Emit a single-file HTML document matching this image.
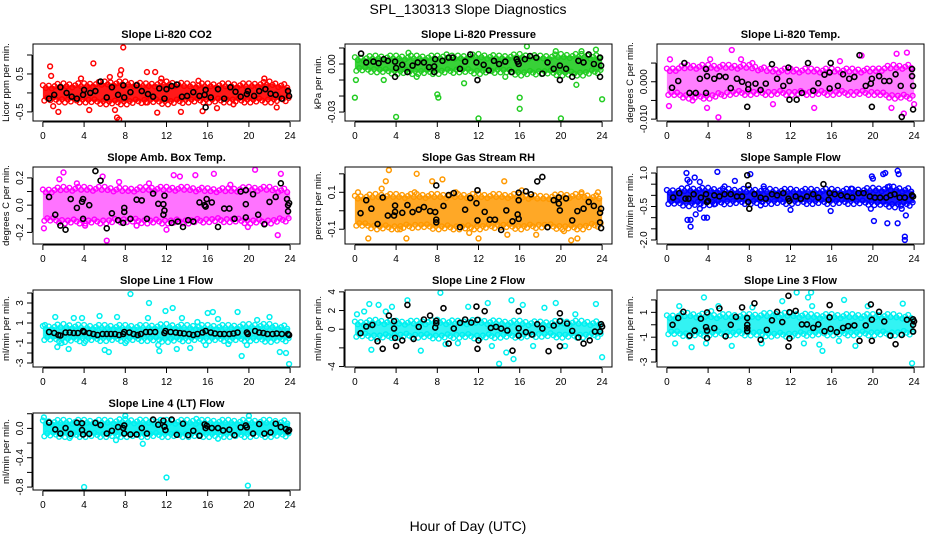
<!DOCTYPE html>
<html><head><meta charset="utf-8"><style>
html,body{margin:0;padding:0;background:#fff;}
svg{display:block;font-family:"Liberation Sans",sans-serif;}
</style></head><body>
<svg id="chart" width="936" height="540" viewBox="0 0 936 540">
<rect width="936" height="540" fill="#fff"/>
<text x="468" y="14" text-anchor="middle" font-size="14">SPL_130313  Slope Diagnostics</text>
<text x="468" y="531" text-anchor="middle" font-size="14">Hour of Day (UTC)</text>
</svg>
<script>
const xTicks = [0,4,8,12,16,20,24];
const bandHours = [0,2,4,6,8,10,12,14,16,18,20,22,24];
const panelTitles = ["Slope Li-820 CO2","Slope Li-820 Pressure","Slope Li-820 Temp.","Slope Amb. Box Temp.","Slope Gas Stream RH","Slope Sample Flow","Slope Line 1 Flow","Slope Line 2 Flow","Slope Line 3 Flow","Slope Line 4 (LT) Flow"];
const yLabels = ["Licor ppm per min.","kPa per min.","degrees C per min.","degrees C per min.","percent per min.","ml/min per min.","ml/min per min.","ml/min per min.","ml/min per min.","ml/min per min."];
const yDomains = [[-0.74,1.29],[-0.0356,0.0125],[-0.0105,0.0101],[-0.285,0.28],[-0.18,0.237],[-2.18,1.27],[-3.4,4.3],[-4.05,4.2],[-3.4,2.8],[-0.84,0.21]];
const yTicks = [[-0.5,0,0.5,1.0],[-0.03,-0.02,-0.01,0,0.01],[-0.01,-0.005,0,0.005],[-0.2,-0.1,0,0.1,0.2],[-0.1,0,0.1,0.2],[-2,-1.5,-1,-0.5,0,0.5,1],[-3,-2,-1,0,1,2,3,4],[-4,-2,0,2,4],[-3,-2,-1,0,1,2],[-0.8,-0.6,-0.4,-0.2,0,0.2]];
const yTickLabels = [["-0.5","","0.5",""],["-0.03","","","0.00",""],["-0.010","","0.000",""],["-0.2","","0.0","","0.2"],["-0.1","","0.1",""],["-2.0","","","-0.5","","","1.0"],["-3","","-1","","1","","3",""],["-4","","0","2","4"],["-3","","-1","","1",""],["-0.8","","-0.4","","0.0",""]];
const seriesColors = ["#ff0000","#22cc22","#ff00ff","#ff00ff","#ff9900","#0000ff","#00f0f0","#00f0f0","#00f0f0","#00f0f0"];
const bandLoArr = [
 [-0.15,-0.2,-0.2,-0.25,-0.25,-0.2,-0.25,-0.2,-0.2,-0.2,-0.2,-0.2,-0.15],
 [-0.003,-0.004,-0.005,-0.005,-0.005,-0.004,-0.005,-0.004,-0.006,-0.005,-0.006,-0.006,-0.004],
 [-0.003,-0.004,-0.004,-0.003,-0.003,-0.003,-0.003,-0.003,-0.003,-0.003,-0.003,-0.004,-0.004],
 [-0.1,-0.12,-0.12,-0.12,-0.11,-0.12,-0.12,-0.12,-0.11,-0.11,-0.12,-0.12,-0.1],
 [-0.07,-0.09,-0.09,-0.08,-0.09,-0.09,-0.09,-0.08,-0.09,-0.08,-0.09,-0.09,-0.07],
 [-0.3,-0.4,-0.35,-0.3,-0.3,-0.3,-0.3,-0.3,-0.3,-0.3,-0.35,-0.45,-0.35],
 [-0.5,-0.7,-0.6,-0.6,-0.6,-0.6,-0.7,-0.6,-0.6,-0.6,-0.6,-0.7,-0.6],
 [-0.6,-0.8,-0.7,-0.7,-0.8,-0.7,-0.8,-0.7,-0.7,-0.6,-0.7,-0.7,-0.6],
 [-0.6,-0.8,-0.7,-0.7,-0.7,-0.8,-0.8,-0.7,-0.7,-0.7,-0.7,-0.7,-0.6],
 [-0.08,-0.09,-0.09,-0.09,-0.09,-0.09,-0.09,-0.09,-0.09,-0.09,-0.09,-0.09,-0.08]];
const bandHiArr = [
 [0.15,0.2,0.2,0.25,0.25,0.2,0.25,0.2,0.2,0.2,0.2,0.25,0.15],
 [0.003,0.004,0.004,0.004,0.004,0.004,0.005,0.004,0.005,0.004,0.005,0.005,0.004],
 [0.003,0.004,0.004,0.004,0.004,0.003,0.003,0.003,0.003,0.003,0.003,0.004,0.004],
 [0.1,0.12,0.12,0.12,0.11,0.12,0.12,0.12,0.11,0.11,0.12,0.12,0.1],
 [0.07,0.08,0.08,0.08,0.08,0.08,0.08,0.08,0.08,0.07,0.08,0.08,0.07],
 [0.15,0.25,0.25,0.2,0.2,0.2,0.2,0.2,0.2,0.2,0.25,0.3,0.2],
 [0.5,0.7,0.6,0.6,0.6,0.6,0.7,0.6,0.6,0.6,0.7,0.7,0.5],
 [0.6,0.8,0.7,0.7,0.8,0.7,0.8,0.7,0.7,0.6,0.7,0.7,0.6],
 [0.6,0.8,0.7,0.7,0.7,0.8,0.8,0.7,0.7,0.7,0.7,0.7,0.6],
 [0.08,0.09,0.09,0.09,0.1,0.09,0.09,0.09,0.09,0.09,0.09,0.09,0.08]];
const bandOpacity = [0.9,0.9,0.5,0.55,0.85,0.9,0.85,0.8,0.8,0.9];

const p1Black=[[0.6,-0.15],[1.1,-0.05],[1.7,0.15],[2.3,0.0],[2.8,-0.1],[3.3,-0.15],[3.9,-0.05],[4.0,0.08],[4.6,0.0],[5.1,0.05],[5.6,0.3],[6.2,-0.12],[6.7,0.15],[7.3,-0.05],[7.8,0.2],[7.9,-0.12],[8.5,0.02],[9.1,0.2],[9.6,0.05],[10.2,-0.03],[10.7,-0.1],[11.3,0.12],[11.8,-0.15],[12.0,0.1],[12.5,0.18],[13.0,0.22],[13.5,-0.1],[14.0,-0.08],[14.6,0.02],[15.2,-0.08],[15.7,-0.05],[15.8,0.08],[15.8,-0.38],[16.3,-0.12],[17.0,0.1],[17.6,-0.15],[18.2,0.15],[18.7,0.03],[19.2,-0.1],[19.8,-0.03],[19.9,0.05],[20.5,-0.08],[21.0,0.05],[21.6,0.1],[22.1,-0.02],[22.6,-0.05],[23.2,-0.15],[23.8,0.05],[23.9,-0.08]];
const p1Out=[[0.7,0.7],[0.8,0.45],[1.0,-0.35],[1.5,-0.5],[3.7,0.38],[4.5,-0.45],[4.9,0.78],[6.5,0.42],[7.0,-0.45],[7.2,-0.65],[7.4,-0.7],[7.5,0.48],[7.6,0.6],[7.8,1.2],[10.1,0.55],[10.9,0.55],[11.1,-0.52],[11.5,0.38],[13.4,-0.5],[15.1,0.32],[15.5,-0.48],[16.9,-0.4],[18.5,-0.3],[21.5,0.38],[22.7,-0.38],[10.0,-0.25]];
const p2Black=[[0.6,0.0065],[1.1,0.001],[1.8,0.0015],[2.3,0.0005],[2.8,0.003],[3.2,0.002],[3.9,0.0015],[4.0,-0.0025],[3.9,-0.008],[4.6,-0.0005],[5.1,-0.005],[5.6,-0.001],[6.1,0.001],[6.7,0.001],[7.2,-0.002],[7.7,-0.0015],[7.8,0.003],[7.7,-0.005],[8.5,0.002],[9.1,0.004],[9.5,0.004],[10.2,-0.003],[10.7,0.0015],[11.2,0.006],[11.8,0.001],[11.9,-0.01],[12.5,-0.0005],[13.0,-0.004],[13.5,0.002],[14.0,0.0],[14.6,0.0015],[15.2,-0.005],[15.7,0.003],[15.8,0.0015],[15.9,0.0],[16.5,0.003],[17.0,0.005],[17.6,0.004],[18.2,-0.006],[18.7,0.001],[19.3,-0.003],[19.9,-0.001],[19.9,-0.01],[20.5,-0.003],[21.1,-0.008],[21.7,0.002],[22.2,0.001],[22.7,0.006],[23.2,0.0],[23.8,0.004],[23.9,-0.001],[23.8,-0.008]];
const p2Out=[[0.1,-0.01],[0.0,-0.021],[2.8,-0.01],[4.0,-0.033],[5.2,0.007],[8.0,-0.019],[8.1,-0.021],[8.9,0.006],[10.6,-0.012],[12.0,-0.034],[16.0,-0.021],[16.0,-0.028],[16.7,0.011],[19.5,0.008],[20.0,-0.034],[21.5,-0.013],[22.0,0.008],[23.4,0.009],[24.0,-0.022],[14.6,-0.008],[6.0,-0.008]];
const p3Black=[[0.5,-0.0016],[1.1,0.0002],[1.7,0.005],[2.2,-0.003],[2.8,-0.003],[3.2,0.0008],[3.8,0.0034],[3.9,0.0015],[3.8,-0.003],[4.6,0.0008],[5.1,0.0015],[5.7,0.0013],[6.2,-0.0017],[6.8,0.0008],[7.3,0],[7.9,-0.0007],[7.9,-0.002],[7.8,-0.0067],[8.6,-0.0005],[9.1,-0.0022],[9.6,-0.0005],[10.2,0.0047],[10.7,0.0008],[11.3,-0.0011],[11.8,0.0038],[11.9,0.0002],[11.9,-0.0048],[12.6,-0.0048],[13.1,-0.003],[13.7,0.005],[14.2,-0.0024],[14.7,-0.0004],[15.3,0.0019],[15.8,0.0025],[15.9,0.005],[15.8,-0.0018],[16.6,-0.0011],[17.1,0.002],[17.7,0.0008],[18.2,0.0013],[18.7,0.0071],[19.3,-0.0011],[19.8,-0.0005],[19.9,0.0008],[19.9,-0.0067],[20.6,0.0015],[21.1,0.0002],[21.6,0.0002],[22.2,0.002],[22.7,-0.0011],[22.8,-0.0094],[23.8,0.0034],[23.8,0.0015],[23.9,-0.0011],[23.9,-0.0074]];
const p3Out=[[0.2,-0.0065],[0.3,0.006],[2.5,-0.005],[5.0,-0.0095],[6.3,0.0085],[4.2,0.006],[7.2,0.006],[8.3,0.005],[14.3,-0.007],[16.8,0.0055],[18.9,0.007],[21.8,-0.007],[22.3,0.0075],[23.3,0.0078],[23.0,-0.0085],[24.0,-0.006],[10.3,-0.006],[3.9,-0.007]];
const p4Black=[[0.6,0.06],[1.2,-0.07],[1.7,-0.15],[2.2,-0.18],[2.7,0.045],[3.3,-0.02],[3.8,0.025],[3.9,0.045],[3.9,-0.1],[4.5,0],[5.1,0.25],[5.6,0.18],[6.2,-0.17],[6.7,-0.06],[7.3,-0.11],[7.8,-0.13],[7.9,-0.02],[7.9,-0.05],[8.5,-0.1],[9.1,0.04],[9.6,0.035],[10.1,-0.1],[10.7,0.085],[11.2,0.01],[11.7,0.007],[11.8,0.07],[11.8,-0.04],[11.7,-0.07],[12.5,-0.13],[13.1,-0.12],[13.6,-0.16],[14.1,-0.11],[14.6,-0.12],[15.2,0.02],[15.7,0],[15.8,-0.01],[15.9,0.045],[16.4,0.02],[17.0,-0.16],[17.6,-0.025],[18.1,-0.025],[18.6,-0.1],[19.2,0.1],[19.7,0.11],[19.7,0.007],[19.7,-0.09],[20.4,0.08],[20.9,-0.07],[21.5,-0.14],[22.0,0.024],[22.6,0.06],[23.1,0.16],[23.7,0.045],[23.8,0],[23.8,-0.045],[23.9,0.015]];
const p4Out=[[0.1,-0.17],[1.6,0.19],[2.0,0.24],[6.2,-0.26],[5.8,0.21],[12.7,0.22],[13.3,0.21],[14.8,0.22],[16.6,0.23],[20.6,0.26],[22.8,-0.22],[23.1,0.23],[12.0,-0.18],[19.9,-0.16],[9.1,-0.15],[3.3,0.16],[4.1,-0.15],[7.4,0.17],[10.3,0.16],[18.2,0.15]];
const p5Black=[[0.55,-0.013],[1.1,0.057],[1.6,0.011],[2.2,-0.072],[2.7,0.072],[3.2,-0.026],[3.8,-0.026],[3.9,0.028],[3.9,-0.006],[4.6,-0.011],[5.1,0.031],[5.6,-0.007],[6.2,0.006],[6.7,0.02],[7.3,-0.002],[7.8,-0.007],[7.9,-0.048],[7.9,-0.063],[7.9,0.137],[8.6,0.026],[9.1,0.085],[9.6,0.096],[10.2,-0.089],[10.7,0.006],[11.2,0.069],[11.8,0.041],[11.9,0.111],[11.9,-0.052],[12.6,-0.006],[13.1,-0.048],[13.6,-0.048],[14.2,-0.104],[14.7,0.002],[15.3,-0.057],[15.8,-0.02],[15.9,0.098],[15.9,0.057],[15.9,-0.044],[16.6,0.105],[17.1,0.089],[17.7,0.159],[18.2,0.183],[18.7,-0.089],[19.3,0.057],[19.8,0.072],[19.8,0.039],[19.9,0.002],[20.5,0.067],[21.1,-0.052],[21.6,-0.002],[22.2,0.011],[22.7,0.048],[23.2,0.026],[23.8,-0.011],[23.8,-0.063],[23.9,-0.094],[23.9,0.011]];
const p5Out=[[0.3,0.1],[1.3,-0.15],[2.6,0.12],[3.0,0.16],[3.3,0.22],[4.4,-0.1],[5.0,-0.15],[6.0,0.2],[7.5,0.16],[8.5,0.17],[11.1,-0.12],[12.0,-0.15],[14.5,0.16],[14.8,-0.13],[17.6,-0.13],[20.3,-0.11],[21.0,-0.16],[21.6,-0.15],[22.0,0.1],[23.6,0.1],[5.8,0.1],[9.8,0.1],[16.2,0.11]];
const p6Black=[[0.6,-0.1],[1.2,0.1],[1.8,-0.15],[2.1,-0.15],[2.6,0.05],[3.3,-0.1],[3.8,0.05],[3.9,-0.3],[4.0,-0.25],[4.6,0.0],[5.1,-0.05],[5.6,0.05],[6.2,0.05],[6.8,-0.05],[7.3,-0.05],[7.8,0.9],[7.9,0.45],[7.9,-0.3],[8.0,-0.6],[8.5,0.05],[9.1,-0.1],[9.6,-0.15],[10.2,0.05],[10.7,0.0],[11.3,0.1],[11.8,-0.15],[11.9,-0.25],[12.5,-0.05],[13.0,-0.15],[13.6,-0.05],[14.2,0.05],[14.7,-0.1],[15.2,0.5],[15.7,-0.2],[15.8,0.1],[16.3,0.05],[16.9,0.0],[17.5,-0.05],[18.0,-0.1],[18.6,0.1],[19.1,0.1],[19.7,-0.05],[20.2,-0.1],[20.7,-0.1],[21.3,-0.1],[21.7,0.0],[22.1,0.05],[22.6,-0.1],[23.1,-0.1],[23.8,0.0],[23.9,-0.05]];
const p6Out=[[1.9,1.0],[2.0,0.7],[2.2,0.6],[2.0,-1.1],[2.3,-1.1],[2.3,-1.4],[2.8,-0.85],[2.7,0.8],[3.2,0.6],[3.2,-0.6],[3.6,-1.0],[3.9,-1.0],[4.9,1.05],[4.6,-0.4],[5.6,0.4],[6.6,0.65],[8.1,0.95],[9.1,-0.45],[9.4,0.4],[12.0,-0.65],[15.9,-0.7],[17.9,0.3],[19.9,0.85],[20.0,0.75],[19.8,-0.6],[20.1,-1.15],[21.0,0.95],[21.2,1.0],[21.4,-1.25],[21.6,0.4],[22.4,1.1],[22.5,0.95],[22.4,-1.25],[22.8,-0.6],[23.1,-1.85],[23.1,-2.0],[23.2,-0.9],[23.5,-0.2]];
const p7Black=[[0.6,0.1],[1.1,0],[1.5,-0.2],[1.7,-0.25],[2.2,0.05],[2.6,0.05],[3.0,0.0],[3.4,0.0],[3.9,0.2],[4.0,0.1],[4.5,0.0],[4.9,-0.1],[5.3,-0.2],[5.8,-0.1],[6.2,-0.1],[6.6,-0.1],[7.0,-0.1],[7.4,-0.2],[7.8,-0.1],[7.9,0.1],[8.4,0.05],[8.8,-0.1],[9.2,-0.2],[9.5,-0.1],[10.0,0.1],[10.4,0.1],[10.9,0.1],[11.8,0.0],[11.9,0.2],[12.4,0.1],[12.9,0.05],[13.3,0.0],[13.7,-0.05],[14.2,-0.1],[14.6,-0.2],[15.0,-0.1],[15.5,0.05],[15.8,0.2],[16.3,0.05],[16.7,-0.05],[17.2,-0.1],[17.6,-0.1],[18.1,-0.1],[18.5,-0.05],[18.9,0.05],[19.8,0.05],[19.9,-0.1],[20.6,0.2],[21.0,0.05],[21.4,0.0],[21.8,-0.1],[22.3,-0.1],[22.7,-0.05],[23.2,-0.1],[23.8,-0.1],[23.9,-0.2]];
const p7Out=[[0.2,0.8],[1.2,1.6],[1.4,-1.4],[1.8,-1.0],[2.5,-1.6],[3.0,1.5],[3.8,1.5],[5.5,1.7],[6.0,-1.7],[6.4,-1.9],[7.2,1.6],[8.5,3.9],[10.3,3.0],[10.2,1.5],[11.2,-1.2],[11.3,-1.8],[11.9,2.2],[12.6,2.5],[13.0,-1.6],[13.5,1.5],[14.3,-1.5],[15.0,1.1],[15.8,-1.2],[16.0,2.0],[16.5,2.1],[17.0,1.4],[18.0,-1.1],[18.9,2.1],[19.3,-2.3],[19.8,-1.2],[22.0,1.6],[23.0,-1.9],[23.6,-2.0],[23.9,-3.1],[20.8,1.3],[8.0,-1.0],[4.0,-1.0]];
const p8Black=[[0.55,-0.43],[1.1,0.29],[1.7,0.46],[2.2,-1.29],[2.7,-2.1],[3.3,1.46],[3.8,0.86],[3.8,0.07],[3.9,-0.93],[4.0,-1.8],[4.6,-1.2],[5.1,2.6],[5.7,-1.04],[6.2,0.25],[6.7,1.04],[7.3,1.46],[7.9,0.9],[7.9,0.64],[7.8,0.18],[8.6,2.25],[9.1,-1.54],[9.6,0.07],[10.2,0.68],[10.7,1.04],[11.3,0.71],[11.8,2.43],[11.9,1.0],[12.0,-1.2],[11.9,-2.1],[12.6,1.93],[13.2,0.14],[13.7,0.25],[14.2,0.07],[14.8,-0.14],[15.3,-2.3],[15.9,1.93],[15.9,0.1],[15.9,-0.68],[16.6,-0.32],[17.2,-0.57],[17.7,0.54],[18.2,0.07],[18.8,-2.36],[19.3,0.39],[19.9,0.86],[19.9,1.7],[19.9,-1.82],[20.6,0.61],[21.1,-0.18],[21.7,-0.89],[22.2,-1.54],[22.8,-1.2],[23.3,-0.25],[23.8,-0.25],[23.9,0.54],[24.0,0.29]];
const p8Out=[[0.2,1.6],[0.9,1.9],[1.4,2.7],[1.6,-2.2],[2.3,2.6],[3.0,1.9],[3.6,2.4],[5.1,3.1],[6.4,-2.3],[8.3,3.9],[8.8,-1.6],[11.0,2.4],[12.9,2.8],[13.3,-1.8],[14.0,-3.7],[14.7,-2.5],[15.2,3.1],[15.4,-3.2],[16.3,2.6],[17.3,-1.8],[18.4,2.3],[19.5,2.8],[21.4,1.6],[23.4,2.7],[24.0,-3.0],[10.0,-1.5],[20.4,-1.8]];
const p9Black=[[0.55,0],[1.1,0.55],[1.6,1.04],[2.2,-0.88],[2.7,-0.47],[3.3,0.49],[3.8,-0.19],[3.9,-0.47],[3.9,-1.07],[3.9,0.99],[4.6,-0.27],[5.1,1.32],[5.7,-0.93],[6.2,0],[6.7,0.63],[7.3,1.4],[7.8,0.55],[7.8,0],[7.8,-0.27],[7.8,-0.52],[8.5,1.73],[9.1,-1.21],[9.7,-0.41],[10.2,0.36],[10.7,1.04],[11.2,0.22],[11.8,2.33],[11.9,1.01],[11.9,-1.1],[11.8,-1.75],[12.5,1.12],[13.1,0.03],[13.6,0.03],[14.2,-0.25],[14.7,0.03],[15.3,-0.52],[15.8,1.59],[15.8,0.6],[15.9,-0.33],[16.5,-0.6],[17.1,-0.25],[17.6,-0.11],[18.2,-0.05],[18.7,-1.29],[19.3,-0.05],[19.8,1.64],[19.9,0.41],[19.9,-1.29],[20.6,1.04],[21.1,0.27],[21.7,-0.88],[22.2,-1.56],[22.8,-0.82],[23.3,0.41],[23.9,0.44],[23.9,0],[23.9,-0.55],[24.0,0.27]];
const p9Out=[[1.2,1.5],[2.4,-1.8],[3.6,2.2],[4.3,1.1],[5.0,1.5],[8.3,1.4],[11.2,1.9],[12.6,2.6],[13.3,-1.5],[13.7,2.2],[14.0,2.6],[14.1,1.5],[14.8,-1.6],[15.1,-2.1],[16.7,-1.3],[17.2,2.0],[18.3,-1.7],[19.5,1.5],[22.9,1.7],[23.8,-3.1],[0.8,-1.5],[9.2,-1.5],[6.3,-1.7],[3.8,-1.5]];
const p10Black=[[0.6,0.08],[1.2,-0.014],[1.7,-0.07],[2.2,0.005],[2.7,-0.074],[3.3,0.078],[3.8,0.07],[3.8,-0.023],[3.9,-0.083],[4.5,-0.074],[5.1,0.074],[5.6,0.046],[6.2,-0.07],[6.7,-0.032],[7.3,0.018],[7.8,0.005],[7.9,0.041],[7.9,-0.07],[8.5,-0.083],[9.1,-0.083],[9.6,0.005],[10.1,-0.07],[10.7,0.12],[11.2,0.05],[11.7,0.106],[11.9,-0.023],[11.8,0.023],[12.5,0.12],[13.0,-0.087],[13.6,0.064],[14.1,-0.092],[14.6,-0.032],[15.2,-0.1],[15.7,0.055],[15.8,0.005],[15.9,0.037],[16.4,0.005],[17.0,0.005],[17.5,-0.028],[18.1,-0.018],[18.6,-0.092],[19.2,0.014],[19.7,0.041],[19.8,0.014],[20.4,-0.07],[21.0,0.06],[21.5,-0.07],[22.1,-0.055],[22.6,0.064],[23.1,0.018],[23.6,-0.01],[23.8,-0.041],[23.9,-0.023]];
const p10Out=[[0.1,0.15],[4.0,-0.8],[9.7,-0.21],[7.1,-0.16],[12.0,-0.67],[19.9,-0.78],[20.0,0.17],[14.9,0.13],[8.0,0.17],[2.6,-0.13],[17.0,-0.14]];

const blackSeries=[p1Black,p2Black,p3Black,p4Black,p5Black,p6Black,p7Black,p8Black,p9Black,p10Black];
const outlierSeries=[p1Out,p2Out,p3Out,p4Out,p5Out,p6Out,p7Out,p8Out,p9Out,p10Out];

const NS="http://www.w3.org/2000/svg";
const svg=document.getElementById('chart');
function mk(tag,attrs,parent){const e=document.createElementNS(NS,tag);for(const k in attrs)e.setAttribute(k,attrs[k]);(parent||svg).appendChild(e);return e;}

for(let i=0;i<10;i++){
  const col=i%3,row=Math.floor(i/3);
  const L=33+312*col,T=44+123*row,W=267,H=77;
  const [ymin,ymax]=yDomains[i];
  const xs=v=>L+W*(v+0.96)/25.92;
  const ys=v=>T+H*(ymax-v)/(ymax-ymin);
  const g=mk('g',{});
  
  
  const clip=mk('clipPath',{id:'c'+i},g);
  mk('rect',{x:L,y:T,width:W,height:H},clip);
  const plot=mk('g',{'clip-path':'url(#c'+i+')'},g);
  const c=seriesColors[i];
  const hi=bandHiArr[i], lo=bandLoArr[i];
  let pts=[];
  bandHours.forEach((h,k)=>pts.push(xs(h)+','+ys(hi[k])));
  for(let k=bandHours.length-1;k>=0;k--) pts.push(xs(bandHours[k])+','+ys(lo[k]));
  const band=mk('polygon',{points:pts.join(' '),fill:c,'fill-opacity':bandOpacity[i]},plot);
  
  
  // ragged edge rings placed along the polygon outline
  for(let k=0;k<bandHours.length-1;k++){
    const x0=xs(bandHours[k]),x1=xs(bandHours[k+1]);
    const yh0=ys(hi[k]),yh1=ys(hi[k+1]),yl0=ys(lo[k]),yl1=ys(lo[k+1]);
    for(let s=0;s<7;s++){
      const f=s/7, off=[-2,1,-1,2,0,-2,1][s];
      mk('circle',{cx:x0+(x1-x0)*f,cy:yh0+(yh1-yh0)*f+off,r:2.4,fill:'none',stroke:c,'stroke-width':1.4},plot);
      mk('circle',{cx:x0+(x1-x0)*(f+0.07),cy:yl0+(yl1-yl0)*f-off,r:2.4,fill:'none',stroke:c,'stroke-width':1.4},plot);
    }
  }
  outlierSeries[i].forEach(p=>{
    const e=mk('circle',{cx:xs(p[0]),cy:ys(p[1]),r:2.4,fill:'none',stroke:c,'stroke-width':1.5},plot);
    
    
  });
  blackSeries[i].forEach(p=>{
    const e=mk('circle',{cx:xs(p[0]),cy:ys(p[1]),r:2.5,fill:'none',stroke:'#000','stroke-width':1.6},plot);
    
    
  });
  const box=mk('rect',{x:L,y:T,width:W,height:H,fill:'none',stroke:'#000','stroke-width':1},g);
  
  
  const tt=mk('text',{x:L+W/2,y:T-6,'text-anchor':'middle','font-size':11,'font-weight':'bold'},g);
  tt.textContent=panelTitles[i];
  
  
  mk('line',{x1:xs(0),x2:xs(24),y1:T+H+1,y2:T+H+1,stroke:'#000'},g);
  xTicks.forEach(v=>{
    mk('line',{x1:xs(v),x2:xs(v),y1:T+H+1,y2:T+H+6,stroke:'#000'},g);
    const t=mk('text',{x:xs(v),y:T+H+18,'text-anchor':'middle','font-size':10},g);
    t.textContent=String(v);
    
    
  });
  const yt=yTicks[i];
  mk('line',{x1:L-1,x2:L-1,y1:ys(yt[0]),y2:ys(yt[yt.length-1]),stroke:'#000'},g);
  yt.forEach((v,j)=>{
    mk('line',{x1:L-6,x2:L-1,y1:ys(v),y2:ys(v),stroke:'#000'},g);
    const lab=yTickLabels[i][j];
    if(lab){
      const t=mk('text',{x:0,y:0,'text-anchor':'middle','font-size':10,transform:'translate('+(L-10)+','+ys(v)+') rotate(-90)'},g);
      t.textContent=lab;
      
      
    }
  });
  const yl=mk('text',{x:0,y:0,'text-anchor':'middle','font-size':9.5,transform:'translate('+(L-24)+','+(T+H/2)+') rotate(-90)'},g);
  yl.textContent=yLabels[i];
  
  
}
</script>
</body></html>
